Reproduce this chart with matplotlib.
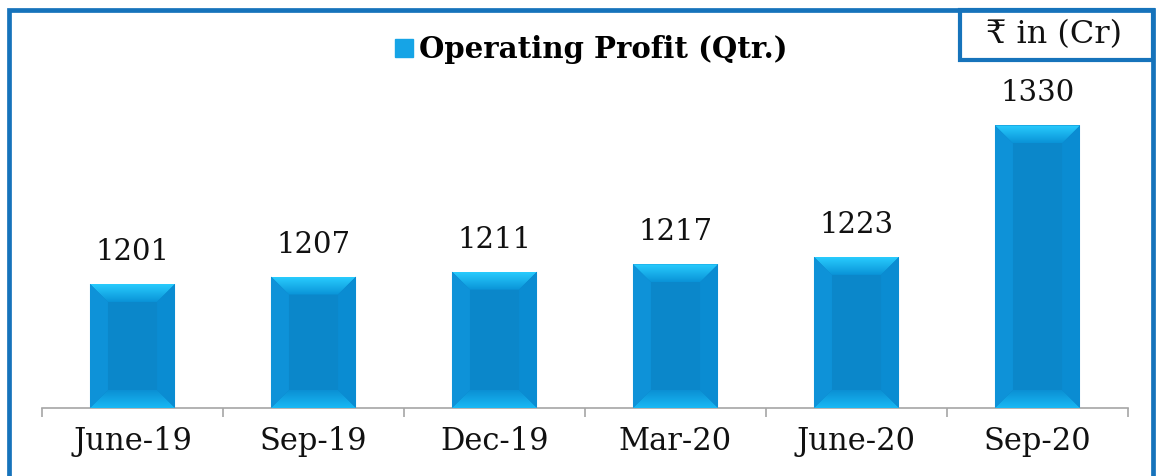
import matplotlib.pyplot as plt
import matplotlib.patches as mpatches
from matplotlib.lines import Line2D
import numpy as np

quarters = ["June-19", "Sep-19", "Dec-19", "Mar-20", "June-20", "Sep-20"]
profit = [1201, 1207, 1211, 1217, 1223, 1330]

W, H, DPI = 1158, 476, 100
fig = plt.figure(figsize=(W / DPI, H / DPI), dpi=DPI)
ax = fig.add_axes([42 / W, 1 - 408 / H, (1128 - 42) / W, 398 / H])

serif = ['DejaVu Serif', 'DejaVu Sans']
x = np.arange(len(quarters))
bars = ax.bar(x, profit, width=0.47, bottom=0, color='#0b87ca', zorder=2)
ax.set_xlim(-0.5, len(quarters) - 0.5)
ax.set_ylim(1100, 1424)

# bevel look: overlay light edges on every bar
fig.canvas.draw()
pxx = ax.transData.transform((1, 0))[0] - ax.transData.transform((0, 0))[0]
pxy = ax.transData.transform((0, 1))[1] - ax.transData.transform((0, 0))[1]
bev = 18
dx, dy = bev / pxx, bev / pxy
for b in bars:
    x0, x1 = b.get_x(), b.get_x() + b.get_width()
    y0, y1 = 1100, b.get_height()
    sides = [
        ([(x0, y1), (x1, y1), (x1 - dx, y1 - dy), (x0 + dx, y1 - dy)], None, ('#28cbfd', '#0a94d8')),
        ([(x0, y0), (x1, y0), (x1 - dx, y0 + dy), (x0 + dx, y0 + dy)], None, ('#18b8f4', '#0b90d4')),
        ([(x0, y0), (x0 + dx, y0 + dy), (x0 + dx, y1 - dy), (x0, y1)], '#0e92d8', None),
        ([(x1, y0), (x1 - dx, y0 + dy), (x1 - dx, y1 - dy), (x1, y1)], '#0a8cd2', None),
    ]
    for i, (pts, col, grad) in enumerate(sides):
        poly = mpatches.Polygon(pts, closed=True, lw=0, zorder=3,
                                facecolor=col if col else 'none')
        ax.add_patch(poly)
        if grad:
            c0 = np.array([int(grad[0][k:k + 2], 16) for k in (1, 3, 5)]) / 255
            c1 = np.array([int(grad[1][k:k + 2], 16) for k in (1, 3, 5)]) / 255
            t = np.linspace(0, 1, 32)[:, None]
            img = (c0 * (1 - t) + c1 * t)[:, None, :]
            if i == 0:
                ext = (x0, x1, y1 - dy, y1)
            else:
                ext = (x0, x1, y0 + dy, y0)
            im = ax.imshow(img, extent=ext, origin='upper', aspect='auto', zorder=3)
            im.set_clip_path(poly)
    ax.annotate(f"{b.get_height():.0f}", (b.get_x() + b.get_width() / 2, y1),
                xytext=(0, 13), textcoords='offset points', ha='center', va='bottom',
                fontsize=21, family=serif, color='#111111', zorder=4)

ax.set_xlim(-0.5, len(quarters) - 0.5)
ax.set_ylim(1100, 1424)

for s in ['top', 'right', 'left']:
    ax.spines[s].set_visible(False)
ax.spines['bottom'].set_color('#a6a6a6')
ax.spines['bottom'].set_linewidth(1.2)
ax.set_yticks([])
ax.set_xticks(np.arange(-0.5, len(quarters)), labels=[''] * (len(quarters) + 1))
ax.tick_params(axis='x', which='major', length=6.5, color='#a6a6a6', width=1.2)
ax.set_xticks(x, labels=quarters, minor=True)
ax.tick_params(axis='x', which='minor', length=0, pad=13, labelsize=22, labelcolor='#111111')
for lab in ax.get_xticklabels(minor=True):
    lab.set_family(serif)

handle = Line2D([], [], marker='s', markersize=13, color='#16a4e6', linestyle='none')
fig.legend([handle], ["Operating Profit (Qtr.)"], loc='center', bbox_to_anchor=(590 / W, 1 - 50 / H),
           frameon=False, handletextpad=0.1, handlelength=0.8,
           prop={'family': serif, 'weight': 'bold', 'size': 21})

# outer frame and the unit box
frame_col = '#1673bb'
fig.patches.append(mpatches.Rectangle((9 / W, -0.2), (1153 - 9) / W, 1.2 - 10 / H,
                                      transform=fig.transFigure, fill=False,
                                      edgecolor=frame_col, linewidth=3.4))
fig.patches.append(mpatches.Rectangle((960 / W, 1 - 60 / H), (1153 - 960) / W, 50 / H,
                                      transform=fig.transFigure, fill=False,
                                      edgecolor=frame_col, linewidth=3.0))
fig.text(1054 / W, 1 - 35 / H, "₹ in (Cr)", ha='center', va='center',
         fontsize=23, family=serif, color='#111111')

fig.savefig('out.png', dpi=DPI)
